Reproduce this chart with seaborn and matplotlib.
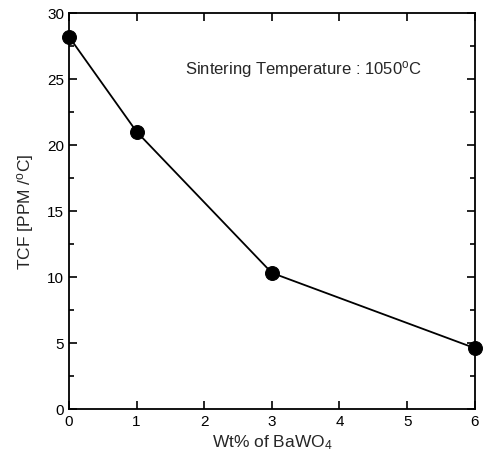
import numpy as np
import pandas as pd
import matplotlib
matplotlib.use("Agg")
import matplotlib.pyplot as plt
import seaborn as sns
from matplotlib.ticker import MultipleLocator

# data
wt_percent = [0, 1, 3, 6]
tcf_values = [28.2, 21.0, 10.3, 4.6]
x_ticks = [0, 1, 2, 3, 4, 5, 6]
y_ticks = [0, 5, 10, 15, 20, 25, 30]

sns.set_style("ticks")
plt.rcParams['font.family'] = ['Liberation Sans', 'DejaVu Sans']
plt.rcParams['mathtext.fontset'] = 'custom'
plt.rcParams['mathtext.rm'] = 'Liberation Sans'
plt.rcParams['mathtext.it'] = 'Liberation Sans'

df = pd.DataFrame({'wt': wt_percent, 'tcf': tcf_values})

fig = plt.figure(figsize=(4.85, 4.6), dpi=100)
ax = fig.add_axes([0.142, 0.109, 0.837, 0.861])

sns.lineplot(data=df, x='wt', y='tcf', ax=ax, color='black', linewidth=1.3,
             marker='o', markersize=10, markeredgecolor='black',
             markerfacecolor='black', clip_on=False, zorder=5)

ax.set_xlim(0, 6)
ax.set_ylim(0, 30)
ax.set_xticks(x_ticks)
ax.set_yticks(y_ticks)
ax.xaxis.set_minor_locator(MultipleLocator(1))
ax.yaxis.set_minor_locator(MultipleLocator(2.5))
ax.tick_params(which='both', direction='in', top=True, right=True,
               labelsize=11, width=1.2, colors='black')
ax.tick_params(which='major', length=6)
ax.tick_params(which='minor', length=3.5)
for s in ax.spines.values():
    s.set_linewidth(1.3)
    s.set_color('black')

ax.set_xlabel('Wt% of BaWO$_4$', fontsize=12.5, labelpad=3)
ax.set_ylabel('TCF [PPM /$^o$C]', fontsize=12.5, labelpad=8)

ax.text(1.71, 25.8, 'Sintering Temperature : 1050$^o$C', fontsize=12,
        va='center', ha='left')

fig.savefig('out.png', dpi=100)
